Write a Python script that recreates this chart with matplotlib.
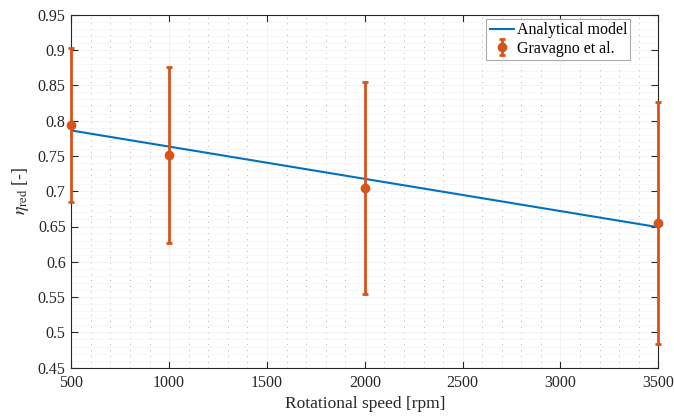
import matplotlib
matplotlib.use("Agg")
import matplotlib.pyplot as plt
import numpy as np
from matplotlib.ticker import MultipleLocator

plt.rcParams['font.family'] = ['Liberation Serif', 'DejaVu Serif']
plt.rcParams['mathtext.fontset'] = 'stix'

# Data
model_speed = [500, 3500]
model_eta = [0.786, 0.649]
exp_speed = [500, 1000, 2000, 3500]
exp_eta = [0.794, 0.751, 0.705, 0.655]
exp_low = [0.685, 0.626, 0.554, 0.483]
exp_high = [0.903, 0.876, 0.854, 0.826]

xticks = [500, 1000, 1500, 2000, 2500, 3000, 3500]
yticks = [0.45, 0.5, 0.55, 0.6, 0.65, 0.7, 0.75, 0.8, 0.85, 0.9, 0.95]

blue = '#0072BD'
orange = '#D95319'

fig = plt.figure(figsize=(6.74, 4.17), dpi=100)
ax = fig.add_axes([71.3/674, 1-367.7/417, (658.3-71.3)/674, (367.7-14.7)/417])

ax.plot(model_speed, model_eta, color=blue, lw=1.5, label='Analytical model', zorder=3)
yerr = [np.array(exp_eta) - np.array(exp_low), np.array(exp_high) - np.array(exp_eta)]
ax.errorbar(exp_speed, exp_eta, yerr=yerr, fmt='o', color=orange, ms=6, lw=2,
            capsize=2.5, capthick=2, label='Gravagno et al.', zorder=4, clip_on=False)

ax.set_xlim(500, 3500)
ax.set_ylim(0.45, 0.95)
ax.set_xticks(xticks)
ax.set_yticks(yticks)
ax.set_yticklabels([('%g' % v) for v in yticks])
ax.xaxis.set_minor_locator(MultipleLocator(100))
ax.yaxis.set_minor_locator(MultipleLocator(0.01))

ax.grid(True, which='major', color='#f0f0f0', lw=0.6, zorder=0)
ax.grid(True, which='minor', axis='y', color='#f4f4f4', lw=0.5, zorder=0)
ax.grid(True, which='minor', axis='x', color='#999999', lw=0.6, linestyle=(0, (1, 6)), zorder=0)

ax.tick_params(which='major', direction='in', length=5, width=0.8, top=True, right=True,
               labelsize=11.5, colors='#262626')
ax.tick_params(axis='x', which='major', pad=5)
ax.tick_params(axis='y', which='major', pad=4)
ax.tick_params(which='minor', length=0, top=True, right=True)
for s in ax.spines.values():
    s.set_color('#262626')
    s.set_linewidth(0.8)

ax.set_xlabel('Rotational speed [rpm]', fontsize=12.5, color='#262626', labelpad=4)
ax.set_ylabel(r'$\eta_{\rm red}$ [-]', fontsize=13, color='#262626', labelpad=5)

leg = ax.legend(loc='upper right', bbox_to_anchor=(0.9525, 0.987), fontsize=11.5, frameon=True,
                fancybox=False, edgecolor='#aaaaaa', framealpha=1, borderpad=0.2,
                handlelength=1.5, handletextpad=0.2, labelspacing=0.15, borderaxespad=0)
leg.get_frame().set_linewidth(0.8)

fig.savefig('out.png', dpi=100)
